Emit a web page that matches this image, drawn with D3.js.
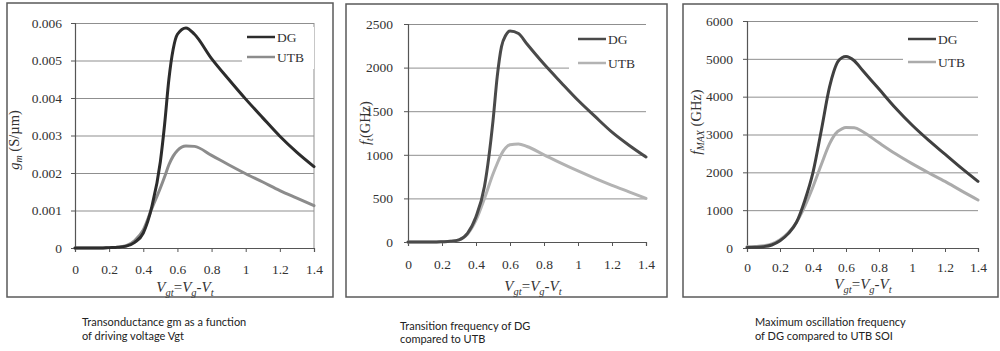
<!DOCTYPE html>
<html>
<head>
<meta charset="utf-8">
<script src="https://cdn.jsdelivr.net/npm/d3@7"></script>
<style>
  html, body { margin: 0; padding: 0; background: #fff; }
  svg { display: block; font-family: "Liberation Serif", serif; }
  .serif { font-family: "Liberation Serif", serif; fill: #333; }
  .caption { font-family: Lato, "Open Sans", sans-serif; font-size: 11px; fill: #222; }
</style>
</head>
<body>
<svg id="chart" width="1000" height="351"></svg>
<script>
// Gate overdrive voltage Vgt = Vg - Vt (V), shared by every series
const vgt = [0, 0.05, 0.1, 0.15, 0.2, 0.25, 0.3, 0.35, 0.4, 0.45, 0.5, 0.525, 0.55, 0.575, 0.6, 0.65, 0.7, 0.8, 0.9, 1.0, 1.1, 1.2, 1.3, 1.4];

// Transconductance gm (S/um)
const gmDG  = [0, 0, 0, 0, 0.00001, 0.00002, 0.00005, 0.00015, 0.0004, 0.0011, 0.0023, 0.0033, 0.0045, 0.0053, 0.0057, 0.00587, 0.0057, 0.00505, 0.0045, 0.00397, 0.00347, 0.00298, 0.00255, 0.00217];
const gmUTB = [0, 0, 0, 0, 0.00001, 0.00002, 0.00006, 0.0002, 0.00048, 0.00105, 0.0016, 0.0019, 0.00222, 0.00245, 0.0026, 0.00272, 0.00271, 0.00247, 0.00222, 0.00198, 0.00176, 0.00153, 0.00133, 0.00113];

// Transition frequency ft (GHz)
const ftDG  = [0, 0, 0, 0, 3, 8, 25, 100, 290, 640, 1390, 1900, 2240, 2370, 2420, 2390, 2270, 2040, 1830, 1625, 1440, 1260, 1110, 975];
const ftUTB = [0, 0, 0, 0, 3, 8, 25, 90, 250, 500, 780, 900, 1010, 1080, 1115, 1125, 1095, 1000, 905, 815, 730, 650, 575, 500];

// Maximum oscillation frequency fMAX (GHz)
const fmaxDG  = [15, 20, 35, 80, 190, 380, 680, 1250, 2000, 3100, 4250, 4650, 4920, 5030, 5060, 4950, 4700, 4200, 3700, 3250, 2850, 2480, 2110, 1760];
const fmaxUTB = [30, 40, 60, 110, 220, 400, 680, 1100, 1620, 2200, 2750, 2950, 3080, 3150, 3185, 3180, 3080, 2780, 2490, 2230, 1990, 1760, 1510, 1270];

const seriesNames = ["DG", "UTB"];
const xTicks = [0, 0.2, 0.4, 0.6, 0.8, 1, 1.2, 1.4];
const gmTicks = [0, 0.001, 0.002, 0.003, 0.004, 0.005, 0.006];
const ftTicks = [0, 500, 1000, 1500, 2000, 2500];
const fmaxTicks = [0, 1000, 2000, 3000, 4000, 5000, 6000];

const captions = [
  ["Transonductance gm as a function", "of driving voltage Vgt"],
  ["Transition frequency of DG", "compared to UTB"],
  ["Maximum oscillation frequency", "of DG compared to UTB SOI"]
];

const svg = d3.select("#chart");

const panels = [
  {
    frame: [7, 3, 326, 294],
    plot: { left: 75, right: 314, top: 23, bottom: 248 },
    ticks: gmTicks, fmt: d => d === 0 ? "0" : d3.format(".3f")(d),
    series: [gmDG, gmUTB], colors: ["#2c2c2c", "#8c8c8c"],
    yPad: 9, xPad: 12,
    legend: { x: 247, y: 37, dy: 20, box: [242, 27, 72, 42] },
    yTitle: { x: 19, y: 140, main: "g", sub: "m", rest: " (S/\u00b5m)" },
    xTitle: { x: 185, y: 292 },
    rightBorder: true,
    caption: { x: 82, y: 326, dy: 13.5 }
  },
  {
    frame: [346, 4, 321, 293],
    plot: { left: 408, right: 646, top: 24, bottom: 242 },
    ticks: ftTicks, fmt: d3.format("d"),
    series: [ftDG, ftUTB], colors: ["#4a4a4a", "#b3b3b3"],
    yPad: 11, xPad: 13,
    legend: { x: 578, y: 39, dy: 24, box: [569, 28, 77, 44] },
    yTitle: { x: 370, y: 123, main: "f", sub: "t", rest: "(GHz)" },
    xTitle: { x: 533, y: 291 },
    rightBorder: false,
    caption: { x: 400, y: 330, dy: 13 }
  },
  {
    frame: [683, 4, 315, 293],
    plot: { left: 747, right: 978, top: 21, bottom: 248 },
    ticks: fmaxTicks, fmt: d3.format("d"),
    series: [fmaxDG, fmaxUTB], colors: ["#404040", "#ababab"],
    yPad: 10, xPad: 10,
    legend: { x: 908, y: 39, dy: 23, box: [903, 28, 75, 43] },
    yTitle: { x: 701, y: 122, main: "f", sub: "MAX", rest: " (GHz)" },
    xTitle: { x: 863, y: 289 },
    rightBorder: false,
    caption: { x: 755, y: 326, dy: 13.5 }
  }
];

function styleAxis(sel) {
  sel.attr("font-family", null).attr("font-size", null);
  sel.select(".domain").attr("stroke", "#555").attr("stroke-width", 1.2);
  sel.selectAll(".tick line").attr("stroke", "#555");
  sel.selectAll(".tick text")
    .attr("class", "serif")
    .attr("fill", "#333")
    .attr("font-size", 13.5);
}

panels.forEach(p => {
  const g = svg.append("g");
  const P = p.plot;

  // outer frame
  g.append("rect")
    .attr("x", p.frame[0]).attr("y", p.frame[1])
    .attr("width", p.frame[2]).attr("height", p.frame[3])
    .attr("fill", "#fff").attr("stroke", "#5a5a5a").attr("stroke-width", 1.5);

  const x = d3.scaleLinear().domain([0, 1.4]).range([P.left, P.right]);
  const y = d3.scaleLinear().domain([0, p.ticks[p.ticks.length - 1]]).range([P.bottom, P.top]);

  // horizontal gridlines
  const grid = g.append("g")
    .attr("transform", `translate(${P.left},0)`)
    .call(d3.axisLeft(y).tickValues(p.ticks).tickSize(-(P.right - P.left)).tickFormat(""));
  grid.select(".domain").remove();
  grid.selectAll(".tick line").attr("stroke", "#8f8f8f").attr("stroke-width", 1);

  if (p.rightBorder) {
    g.append("line")
      .attr("x1", P.right).attr("x2", P.right)
      .attr("y1", P.top).attr("y2", P.bottom)
      .attr("stroke", "#8f8f8f").attr("stroke-width", 1);
  }

  // y axis
  g.append("g")
    .attr("transform", `translate(${P.left},0)`)
    .call(d3.axisLeft(y).tickValues(p.ticks).tickFormat(p.fmt).tickSize(4).tickPadding(p.yPad))
    .call(styleAxis);

  // x axis
  g.append("g")
    .attr("transform", `translate(0,${P.bottom})`)
    .call(d3.axisBottom(x).tickValues(xTicks).tickFormat(d3.format("~g")).tickSize(4).tickPadding(p.xPad))
    .call(styleAxis);

  // curves
  const line = d3.line()
    .x((d, i) => x(vgt[i]))
    .y(d => y(d))
    .curve(d3.curveMonotoneX);

  // UTB first so DG sits on top
  [1, 0].forEach(k => {
    g.append("path")
      .datum(p.series[k])
      .attr("d", line)
      .attr("fill", "none")
      .attr("stroke", p.colors[k])
      .attr("stroke-width", 3)
      .attr("stroke-linejoin", "round")
      .attr("stroke-linecap", "round");
  });

  // legend
  const L = p.legend;
  g.append("rect")
    .attr("x", L.box[0]).attr("y", L.box[1])
    .attr("width", L.box[2]).attr("height", L.box[3])
    .attr("fill", "#fff");
  seriesNames.forEach((name, k) => {
    const ly = L.y + k * L.dy;
    g.append("line")
      .attr("x1", L.x).attr("x2", L.x + 28)
      .attr("y1", ly).attr("y2", ly)
      .attr("stroke", p.colors[k]).attr("stroke-width", 2.5);
    g.append("text")
      .attr("class", "serif")
      .attr("x", L.x + 30).attr("y", ly + 4.5)
      .attr("font-size", 13.5)
      .text(name);
  });

  // y title (rotated)
  const yt = g.append("text")
    .attr("class", "serif")
    .attr("font-size", 14.5)
    .attr("text-anchor", "middle")
    .attr("transform", `translate(${p.yTitle.x},${p.yTitle.y}) rotate(-90)`);
  yt.append("tspan").attr("font-style", "italic").text(p.yTitle.main);
  yt.append("tspan").attr("font-style", "italic").attr("font-size", 10).attr("dy", 3).text(p.yTitle.sub);
  yt.append("tspan").attr("dy", -3).text(p.yTitle.rest);

  // x title
  const xt = g.append("text")
    .attr("class", "serif")
    .attr("font-size", 15)
    .attr("text-anchor", "middle")
    .attr("x", p.xTitle.x).attr("y", p.xTitle.y);
  const parts = [["V", 0], ["gt", 1], ["=", 0], ["V", 0], ["g", 1], ["-", 0], ["V", 0], ["t", 1]];
  let shifted = false;
  parts.forEach(([t, sub]) => {
    const ts = xt.append("tspan").text(t);
    if (t !== "=" && t !== "-") ts.attr("font-style", "italic");
    if (sub) { ts.attr("font-size", 10.5).attr("dy", shifted ? 0 : 4); shifted = true; }
    else { ts.attr("dy", shifted ? -4 : 0); shifted = false; }
  });
});

// captions under each panel
panels.forEach((p, i) => {
  captions[i].forEach((t, j) => {
    svg.append("text")
      .attr("class", "caption")
      .attr("x", p.caption.x)
      .attr("y", p.caption.y + j * p.caption.dy)
      .text(t);
  });
});
</script>
</body>
</html>
